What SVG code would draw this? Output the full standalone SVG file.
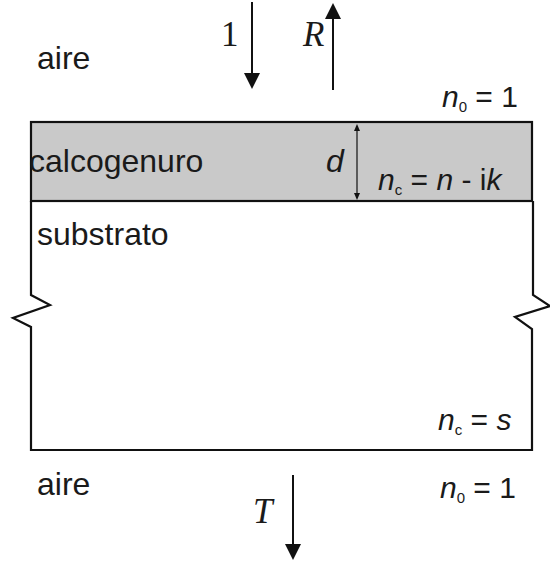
<svg xmlns="http://www.w3.org/2000/svg" width="550" height="564" viewBox="0 0 550 564">
<style>
.ln{fill:none;stroke:#111;stroke-width:2.2;stroke-linejoin:miter}
.fill{fill:#c9c9c9;stroke:#111;stroke-width:2.2}
.ar{stroke:#111;stroke-width:2}
.hd{fill:#111}
.sans{font-family:"Liberation Sans",Arial,sans-serif;font-size:32px;fill:#1a1a1a}
.lab{font-size:30px}
.it{font-style:italic}
.sub{font-size:15px;font-style:normal}
.ser{font-family:"Liberation Serif","Times New Roman",serif;font-size:35px;fill:#1a1a1a}
</style>
<rect width="550" height="564" fill="#fff"/>
<g id="layer">
<rect x="31" y="122" width="501" height="79" class="fill"/>
<text class="sans" x="29" y="172">calcogenuro</text>
<text class="sans it" x="326" y="172">d</text>
<text class="sans lab" x="378" y="190"><tspan class="it">n</tspan><tspan class="sub" dy="5">c</tspan><tspan dy="-5"> = </tspan><tspan class="it">n</tspan> - i<tspan class="it">k</tspan></text>
</g>
<g id="substrate">
<path class="ln" d="M31,201 V295 L50,305 L13,318 L31,327 V450 H532 V329 L515,317 L550,306 L533,295 V201"/>
<text class="sans" x="37" y="245">substrato</text>
<text class="sans lab" x="438" y="430"><tspan class="it">n</tspan><tspan class="sub" dy="5">c</tspan><tspan dy="-5"> = </tspan><tspan class="it">s</tspan></text>
</g>
<g id="air-top">
<text class="sans" x="37" y="69">aire</text>
<text class="sans lab" x="442" y="107"><tspan class="it">n</tspan><tspan class="sub" dy="5">0</tspan><tspan dy="-5"> = 1</tspan></text>
</g>
<g id="air-bottom">
<text class="sans" x="37" y="495">aire</text>
<text class="sans lab" x="440" y="498"><tspan class="it">n</tspan><tspan class="sub" dy="5">0</tspan><tspan dy="-5"> = 1</tspan></text>
</g>
<g id="connectors">
<line class="ar" x1="252" y1="2" x2="252" y2="76"/>
<polygon class="hd" points="244,73 260,73 252,89"/>
<text class="ser" x="221" y="46">1</text>
<line class="ar" x1="333" y1="90" x2="333" y2="16"/>
<polygon class="hd" points="325,19 341,19 333,3"/>
<text class="ser it" x="303" y="46">R</text>
<line class="ar" x1="293" y1="475" x2="293" y2="547"/>
<polygon class="hd" points="285,544 301,544 293,560"/>
<text class="ser it" x="253" y="523">T</text>
<line stroke="#111" stroke-width="1.2" x1="357" y1="128" x2="357" y2="196"/>
<polygon class="hd" points="354,131 360,131 357,124"/>
<polygon class="hd" points="354,193 360,193 357,200"/>
</g>
</svg>
